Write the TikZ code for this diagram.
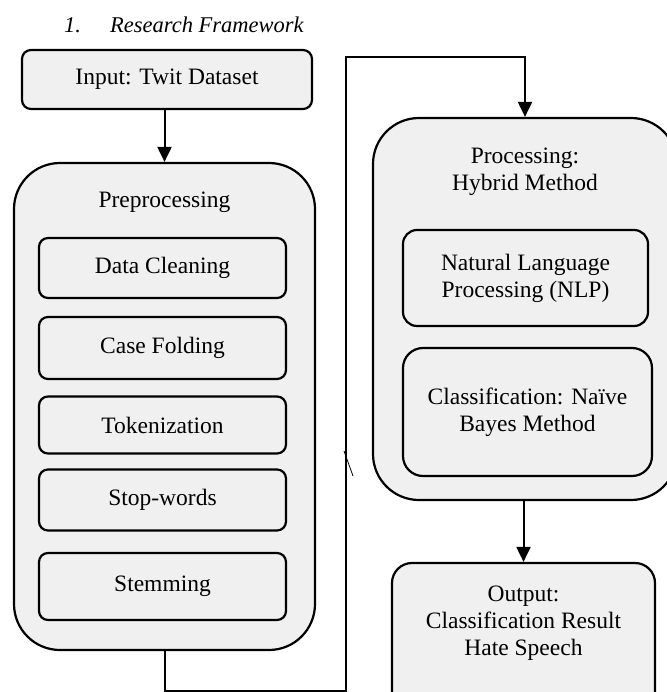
\documentclass[tikz,border=0pt]{standalone}
\usepackage{fontspec}
\setmainfont{Liberation Serif}
\usepackage{tikz}
\usetikzlibrary{positioning,arrows.meta}

\begin{document}
\begin{tikzpicture}[
  x=1pt, y=-1pt,
  font=\fontsize{23.5}{27}\selectfont,
  box/.style={draw, line width=2.2pt, fill=black!6, rounded corners=9pt, align=center, inner sep=0pt},
  outer/.style={box, rounded corners=46pt},
  lbl/.style={align=center, inner sep=0pt},
  arr/.style={-{Triangle[width=14pt,length=15pt]}, line width=2pt}
]
\useasboundingbox (0,0) rectangle (666,692);

% title
\node[lbl, anchor=base west, font=\fontsize{22.5}{26}\selectfont\itshape] (titlenum) at (64,33) {1.};
\node[lbl, anchor=base west, font=\fontsize{22.5}{26}\selectfont\itshape] (titletext) at (110,33) {Research Framework};

% left column
\node[box, minimum width=290pt, minimum height=59pt] (input) at (167,79.5) {Input: Twit Dataset};
\node[outer, minimum width=301pt, minimum height=487pt] (prep) at (164.5,406.5) {};
\node[lbl] (preptitle) at (164.5,202) {Preprocessing};
\node[box, minimum width=247pt, minimum height=60pt] (clean) at (162.5,268) {Data Cleaning};
\node[box, minimum width=247pt, minimum height=62pt] (fold) at (162.5,348) {Case Folding};
\node[box, minimum width=247pt, minimum height=57pt] (token) at (162.5,425) {Tokenization};
\node[box, minimum width=247pt, minimum height=61pt] (stop) at (162.5,500) {Stop-words};
\node[box, minimum width=247pt, minimum height=67pt] (stem) at (162.5,586.5) {Stemming};

% right column
\node[outer, minimum width=304pt, minimum height=382pt] (proc) at (525,309) {};
\node[lbl] (proctitle) at (525,171.5) {Processing:\\Hybrid Method};
\node[box, rounded corners=14pt, minimum width=245pt, minimum height=96pt] (nlp) at (525.5,278) {Natural Language\\Processing (NLP)};
\node[box, rounded corners=20pt, minimum width=249pt, minimum height=128pt] (bayes) at (527.5,412) {Classification: Na\"ive\\Bayes Method};
\node[box, rounded corners=20pt, minimum width=263pt, minimum height=152pt] (outbox) at (523.5,639) {};
\node[lbl] (outtext) at (523.5,623) {Output:\\Classification Result\\Hate Speech};

% connectors
\coordinate (lowturn) at (346,691);
\coordinate (highturn) at (346,57);
\draw[arr] (input.south -| prep.north) -- (prep.north);
\draw[arr] (prep.south) |- (lowturn) -- (highturn) -| (proc.north);
\draw[arr] (outbox.north |- proc.south) -- (outbox.north);
\draw[line width=0.8pt] (344,451) -- (353,476);
\end{tikzpicture}
\end{document}
